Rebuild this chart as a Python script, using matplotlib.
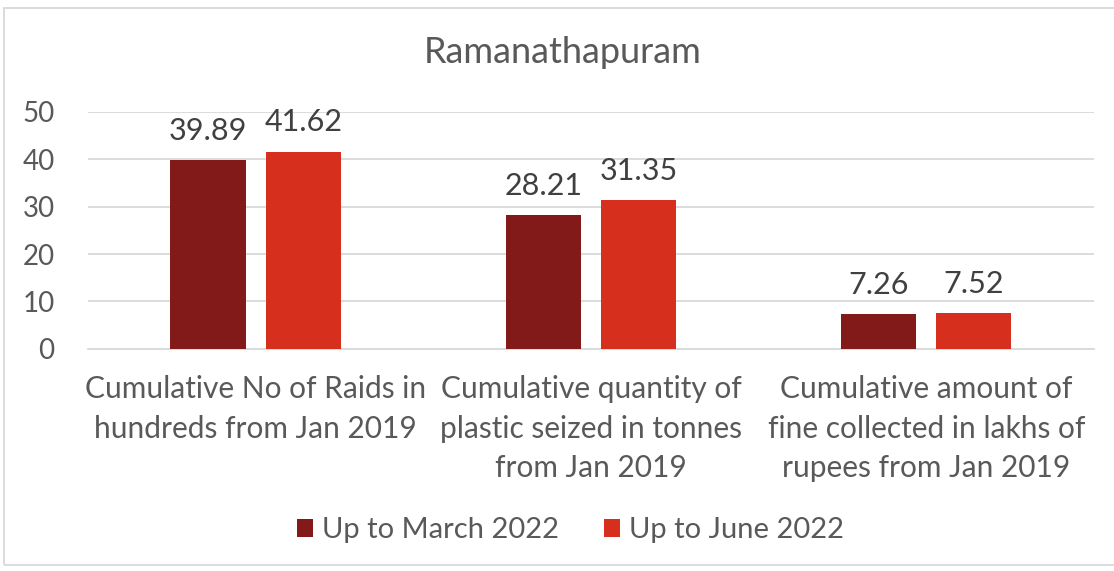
import numpy as np
import matplotlib.pyplot as plt
from matplotlib.patches import Rectangle

categories = [
    "Cumulative No of Raids in\nhundreds from Jan 2019",
    "Cumulative quantity of\nplastic seized in tonnes\nfrom Jan 2019",
    "Cumulative amount of\nfine collected in lakhs of\nrupees from Jan 2019",
]
series_names = ["Up to March 2022", "Up to June 2022"]
march_2022 = [39.89, 28.21, 7.26]
june_2022 = [41.62, 31.35, 7.52]
colors = ["#831A1A", "#D62F1E"]
text_color = "#595959"

plt.rcParams['font.family'] = ['Lato', 'DejaVu Sans']

fig = plt.figure(figsize=(11.14, 5.71), dpi=100)
ax = fig.add_axes([0.079, 0.389, 0.903, 0.415])

x = np.arange(len(categories))
w = 0.224
off = 0.142
bars1 = ax.bar(x - off, march_2022, w, color=colors[0], label=series_names[0], zorder=3)
bars2 = ax.bar(x + off, june_2022, w, color=colors[1], label=series_names[1], zorder=3)

for bars in (bars1, bars2):
    for b in bars:
        ax.annotate(f"{b.get_height():.2f}", (b.get_x() + b.get_width() / 2, b.get_height()),
                    xytext=(0, 11), textcoords="offset points", ha="center", va="bottom",
                    fontsize=22, color="#404040")

ax.set_xlim(-0.5, 2.5)
ax.set_ylim(0, 50)
ax.set_yticks(range(0, 51, 10))
ax.yaxis.grid(True, color="#D9D9D9", linewidth=1.3, zorder=0)
ax.tick_params(axis="y", length=0, labelsize=20, labelcolor=text_color, pad=24)
ax.set_xticks(x)
ax.set_xticklabels(categories, fontsize=21.5, color=text_color, linespacing=1.5)
ax.tick_params(axis="x", length=0, pad=19)
for s in ["top", "right", "left"]:
    ax.spines[s].set_visible(False)
ax.spines["bottom"].set_color("#D9D9D9")
ax.spines["bottom"].set_linewidth(1.3)

fig.text(0.505, 0.908, "Ramanathapuram", ha="center", va="center", fontsize=26, color=text_color)

fig.legend(loc="center", bbox_to_anchor=(0.512, 0.071), ncol=2, frameon=False,
           fontsize=21, labelcolor=text_color, handlelength=0.55, handleheight=0.55,
           handletextpad=0.3, columnspacing=1.55)

fig.patches.append(Rectangle((4 / 1114, 6 / 571), 1.2, 1 - 14 / 571, transform=fig.transFigure,
                             fill=False, edgecolor="#D9D9D9", linewidth=1.3))

fig.savefig("out.png", dpi=100)
